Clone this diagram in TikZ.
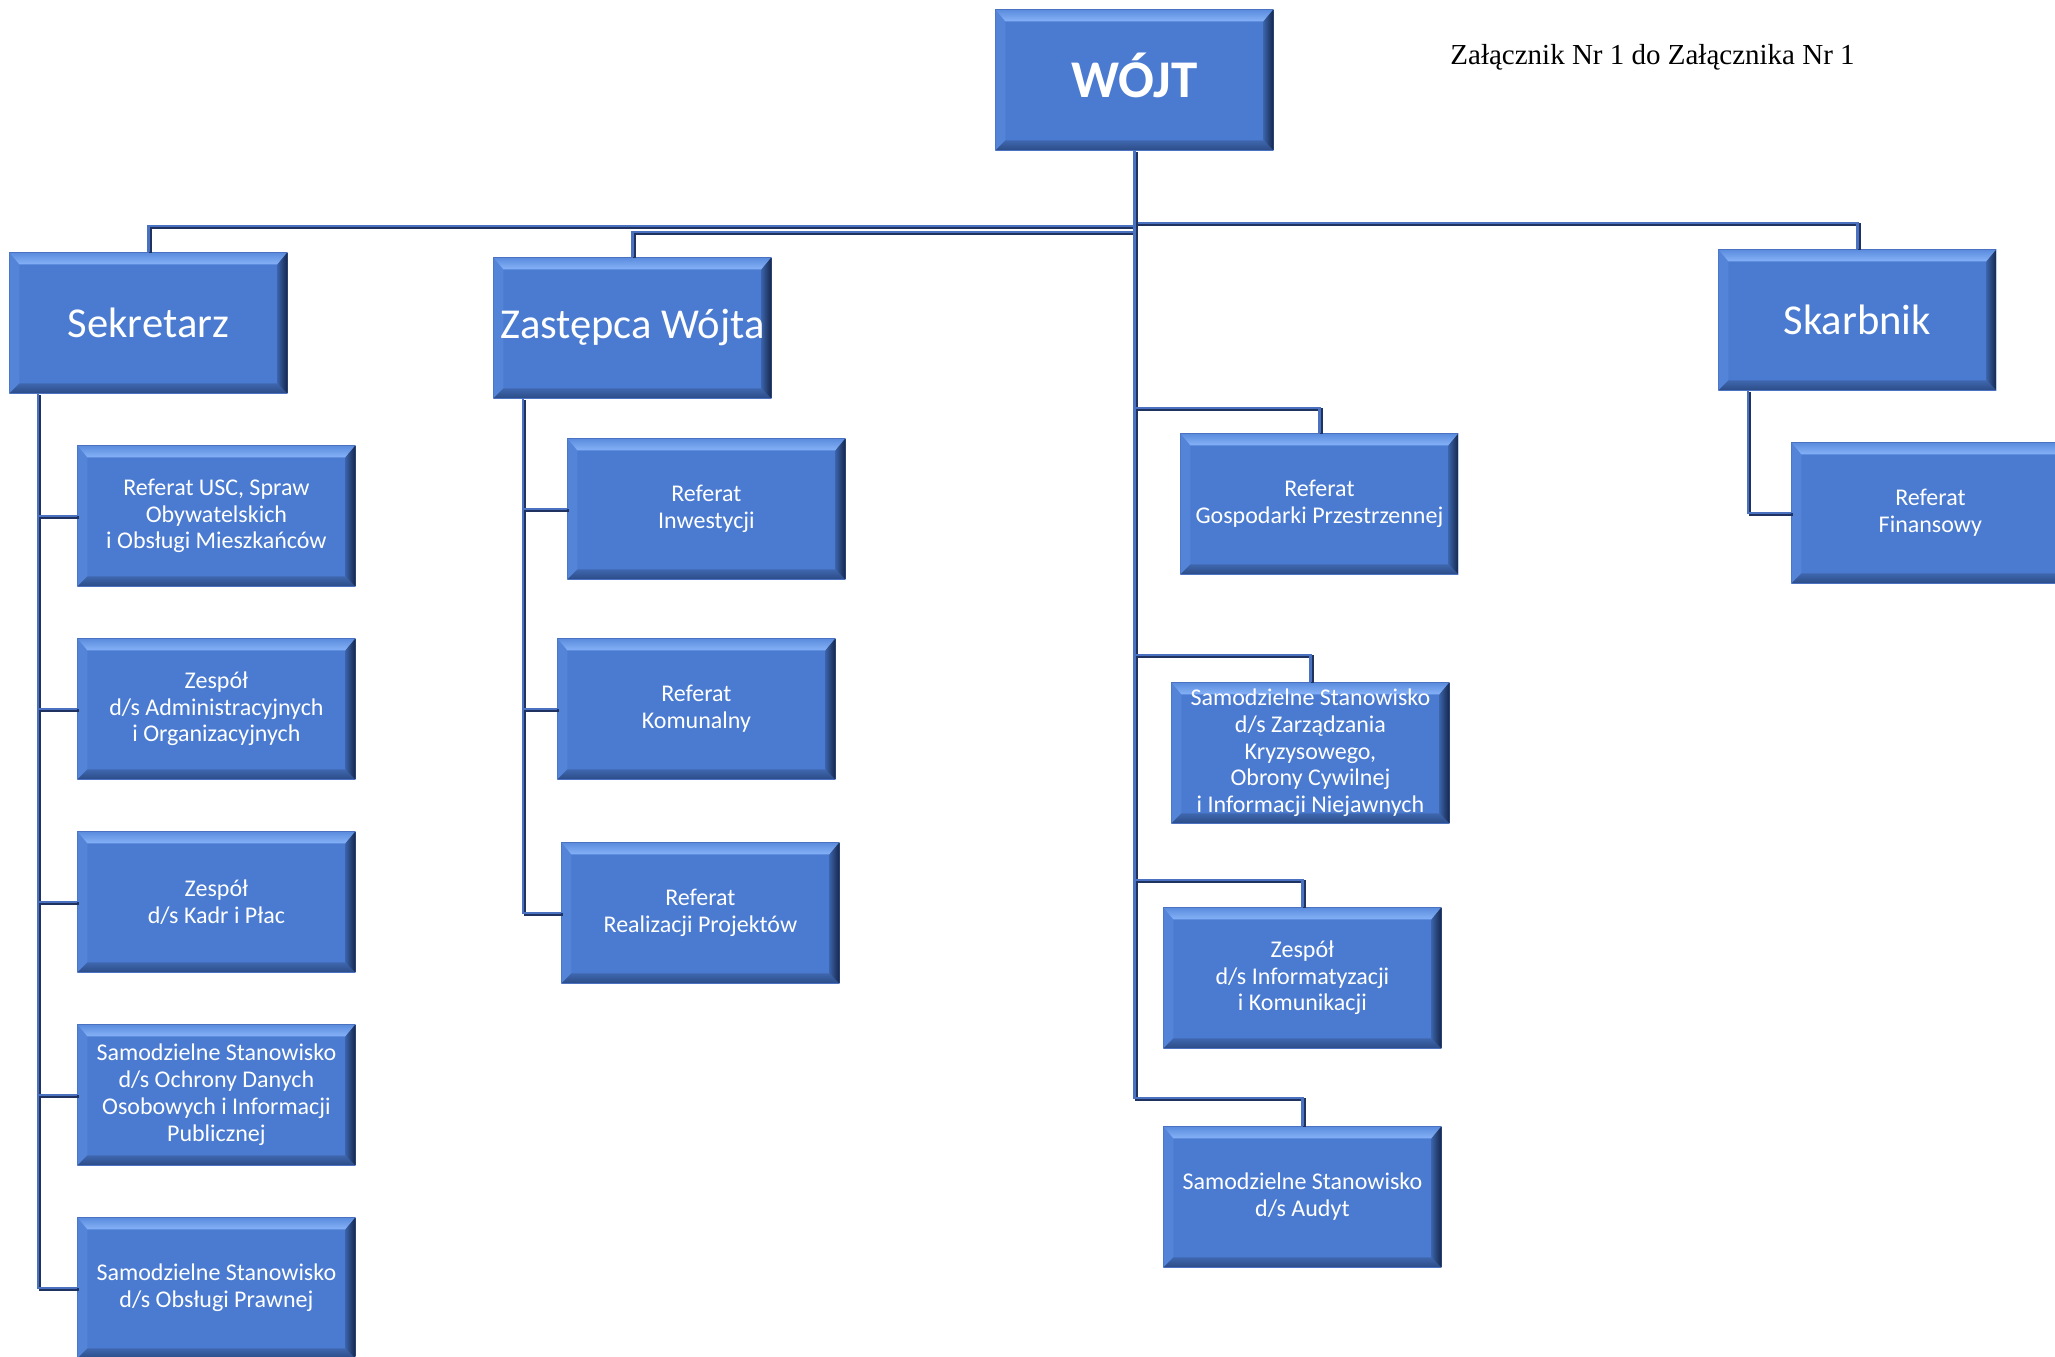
\documentclass[tikz,border=0pt]{standalone}
\usepackage{fontspec}
\setmainfont{Carlito}
\newfontfamily\timesf{Liberation Serif}
\usetikzlibrary{calc}
\definecolor{face}{HTML}{4A7BD0}
\definecolor{bevlight}{HTML}{86B2F7}
\definecolor{bevtopout}{HTML}{5A8BDD}
\definecolor{bevleft}{HTML}{5484D8}
\definecolor{bevbotin}{HTML}{3F67AE}
\definecolor{bevbotout}{HTML}{2B4B86}
\definecolor{bevrightin}{HTML}{3A62A8}
\definecolor{bevrightout}{HTML}{15264A}
\definecolor{lineblue}{HTML}{4A72C0}
\definecolor{linenavy}{HTML}{1F3260}
\tikzset{
  bevelbox/.style={rectangle, inner sep=0pt, anchor=north west,
    minimum width=139pt, minimum height=70.5pt, text=white, align=center,
    fill=face, font=\fontsize{12}{13.4}\selectfont,
    path picture={
      \path (path picture bounding box.south west) coordinate (pSW)
            (path picture bounding box.north east) coordinate (pNE)
            (path picture bounding box.north west) coordinate (pNW)
            (path picture bounding box.south east) coordinate (pSE);
      \fill[bevleft] (pNW) -- ([shift={(5pt,-6pt)}]pNW) -- ([shift={(5pt,5pt)}]pSW) -- (pSW) -- cycle;
      \shade[top color=bevtopout, bottom color=bevlight] (pNW) -- (pNE) -- ([shift={(-5pt,-6pt)}]pNE) -- ([shift={(5pt,-6pt)}]pNW) -- cycle;
      \shade[top color=bevbotin, bottom color=bevbotout] (pSW) -- ([shift={(5pt,5pt)}]pSW) -- ([shift={(-5pt,5pt)}]pSE) -- (pSE) -- cycle;
      \shade[left color=bevrightin, right color=bevrightout] (pNE) -- ([shift={(-5pt,-6pt)}]pNE) -- ([shift={(-5pt,5pt)}]pSE) -- (pSE) -- cycle;
      \draw[lineblue, line width=0.8pt] (pSW) rectangle (pNE);
    }},
  bigtext/.style={font=\fontsize{21.3}{25}\selectfont},
  conn/.style={draw=lineblue, line width=1.3pt,
    preaction={draw=linenavy, line width=1.3pt, transform canvas={shift={(0.9pt,-0.7pt)}}}}
}
\begin{document}
\begin{tikzpicture}[x=0.5pt, y=-0.5pt]
\useasboundingbox (0,0) rectangle (2055,1356);
\fill[white] (0,0) rectangle (2055,1356);

% top level
\node[bevelbox] (wojt) at (995,9) {\raisebox{5pt}{\fontsize{26.5}{30}\selectfont\bfseries WÓJT}};
\node[bevelbox, bigtext] (sek) at (9,252) {Sekretarz};
\node[bevelbox, bigtext] (zast) at (493,257) {Zastępca Wójta};
\node[bevelbox, bigtext] (skarb) at (1718,249) {Skarbnik};

% Sekretarz
\node[bevelbox] (usc) at (77,445) {Referat USC, Spraw\\Obywatelskich\\i Obsługi Mieszkańców};
\node[bevelbox] (admin) at (77,638) {Zespół\\d/s Administracyjnych\\i Organizacyjnych};
\node[bevelbox] (kadr) at (77,831) {Zespół\\d/s Kadr i Płac};
\node[bevelbox] (ochrona) at (77,1024) {Samodzielne Stanowisko\\d/s Ochrony Danych\\Osobowych i Informacji\\Publicznej};
\node[bevelbox] (prawna) at (77,1217) {Samodzielne Stanowisko\\d/s Obsługi Prawnej};

% Zastepca
\node[bevelbox] (inw) at (567,438) {Referat\\Inwestycji};
\node[bevelbox] (kom) at (557,638) {Referat\\Komunalny};
\node[bevelbox] (real) at (561,842) {Referat\\Realizacji Projektów};

% Wojt direct
\node[bevelbox] (gosp) at (1180,433) {Referat\\Gospodarki Przestrzennej};
\node[bevelbox] (zarz) at (1171,682) {Samodzielne Stanowisko\\d/s Zarządzania\\Kryzysowego,\\Obrony Cywilnej\\i Informacji Niejawnych};
\node[bevelbox] (info) at (1163,907) {Zespół\\d/s Informatyzacji\\i Komunikacji};
\node[bevelbox] (audyt) at (1163,1126) {Samodzielne Stanowisko\\d/s Audyt};

% Skarbnik
\node[bevelbox] (fin) at (1791,442) {Referat\\Finansowy};

% caption
\node[anchor=base west, inner sep=0pt, font=\timesf\fontsize{14.5}{17}\selectfont] (cap) at (1450,64) {Załącznik Nr 1 do Załącznika Nr 1};

% junction levels
\coordinate (ySek) at (0,226);
\coordinate (yZast) at (0,232);
\coordinate (ySkarb) at (0,223);
\coordinate (yGosp) at (0,408);
\coordinate (yZarz) at (0,655);
\coordinate (yInfo) at (0,880);
\coordinate (yAud) at (0,1098);
\coordinate (sekT) at ([xshift=14.5pt]sek.south west);
\coordinate (zastT) at ([xshift=15pt]zast.south west);
\coordinate (skarbT) at ([xshift=15pt]skarb.south west);

% connectors from Wojt
\draw[conn] (wojt.south) -- (wojt.south |- ySek) -| (sek.north);
\draw[conn] (wojt.south) -- (wojt.south |- yZast) -| (zast.north);
\draw[conn] (wojt.south) -- (wojt.south |- ySkarb) -| (skarb.north);
\draw[conn] (wojt.south) |- (audyt.north |- yAud) -- (audyt.north);
\draw[conn] (wojt.south |- yGosp) -| (gosp.north);
\draw[conn] (wojt.south |- yZarz) -| (zarz.north);
\draw[conn] (wojt.south |- yInfo) -| (info.north);

% Sekretarz children
\draw[conn] (sekT) |- (prawna.west);
\draw[conn] (sekT) |- (ochrona.west);
\draw[conn] (sekT) |- (kadr.west);
\draw[conn] (sekT) |- (admin.west);
\draw[conn] (sekT) |- (usc.west);

% Zastepca children
\draw[conn] (zastT) |- (real.west);
\draw[conn] (zastT) |- (kom.west);
\draw[conn] (zastT) |- (inw.west);

% Skarbnik child
\draw[conn] (skarbT) |- (fin.west);
\end{tikzpicture}
\end{document}
